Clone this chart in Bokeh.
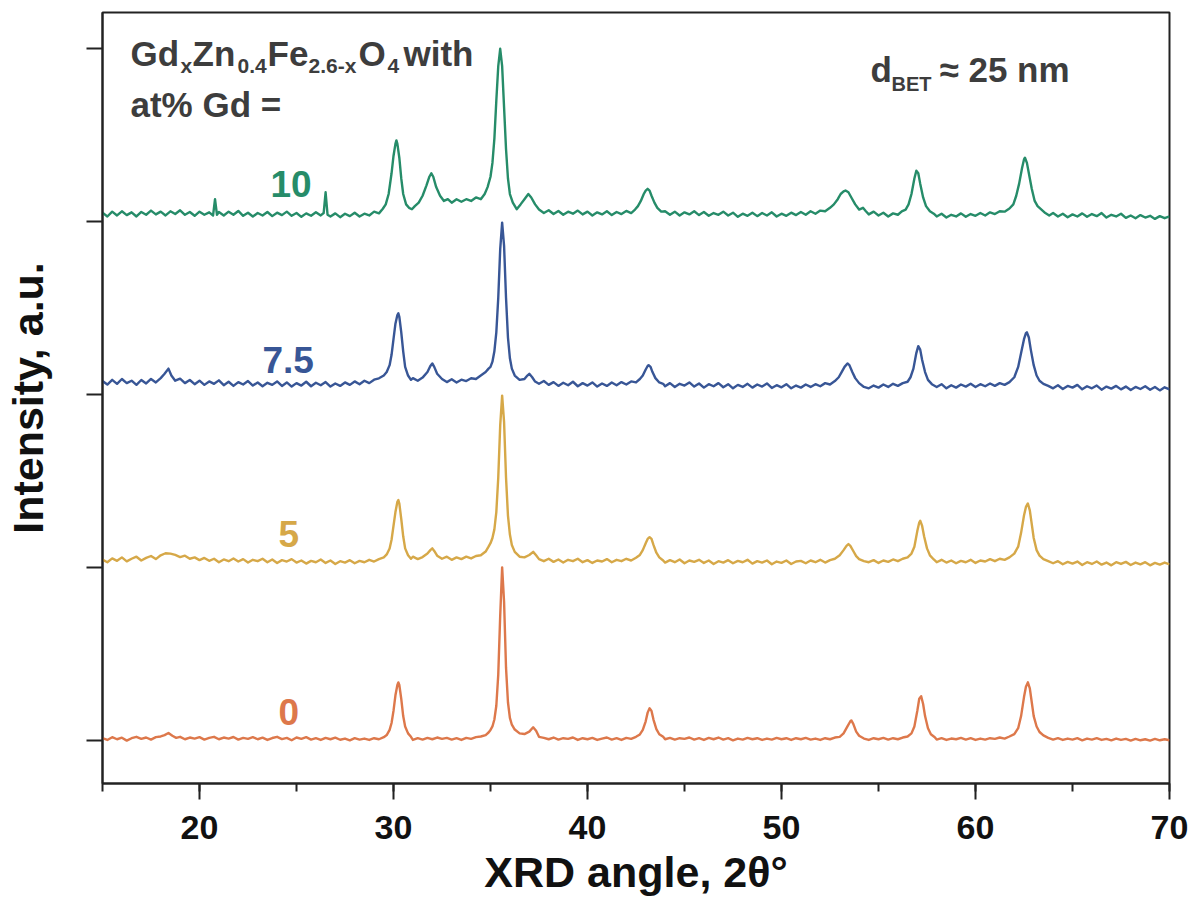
from bokeh.plotting import figure
from bokeh.models import Range1d, Label, FixedTicker, SingleIntervalTicker
from bokeh.embed import file_html
from bokeh.resources import INLINE

# ---------------- data (2-theta, normalised intensity above each trace's own zero) -------------
S0 = [(15.0,.012),(15.25,.002),(15.5,.018),(15.75,.006),(16.0,.015),(16.25,-.002),(16.5,.012),(16.75,.020),(17.0,.008),(17.25,.016),(17.5,.004),(17.75,.018),(18.0,.022),(18.2,.030),(18.4,.042),(18.6,.026),(18.8,.014),(19.0,.020),(19.25,.006),(19.5,.016),(19.75,.010),(20.0,.018),(20.25,.004),(20.5,.014),(20.75,.020),(21.0,.006),(21.25,.016),(21.5,.010),(21.75,.019),(22.0,.004),(22.25,.014),(22.5,.008),(22.75,.018),(23.0,.006),(23.25,.015),(23.5,.002),(23.75,.013),(24.0,.020),(24.25,.007),(24.5,.014),(24.75,.000),(25.0,.016),(25.25,.008),(25.5,.018),(25.75,.004),(26.0,.012),(26.25,.002),(26.5,.014),(26.75,.006),(27.0,.015),(27.25,.003),(27.5,.010),(27.75,.000),(28.0,.012),(28.25,.004),(28.5,.010),(28.75,.002),(29.0,.012),(29.25,.006),(29.5,.018),(29.65,.030),(29.8,.060),(29.9,.10),(30.0,.17),(30.1,.26),(30.2,.32),(30.25,.335),(30.3,.32),(30.4,.24),(30.5,.14),(30.6,.08),(30.75,.040),(30.9,.020),(31.0,.002),(31.25,.012),(31.5,.004),(31.75,.014),(32.0,.006),(32.25,.016),(32.5,.008),(32.75,.014),(33.0,.004),(33.25,.012),(33.5,.002),(33.75,.014),(34.0,.008),(34.25,.018),(34.5,.022),(34.75,.030),(34.9,.045),(35.0,.060),(35.1,.080),(35.2,.12),(35.3,.20),(35.4,.38),(35.5,.72),(35.6,1.0),(35.7,.80),(35.8,.42),(35.9,.22),(36.0,.13),(36.1,.09),(36.25,.062),(36.5,.040),(36.75,.036),(37.0,.050),(37.2,.075),(37.35,.055),(37.5,.020),(37.75,.014),(38.0,.006),(38.25,.016),(38.5,.004),(38.75,.012),(39.0,.008),(39.25,.016),(39.5,.002),(39.75,.012),(40.0,.006),(40.25,.014),(40.5,.002),(40.75,.010),(41.0,.016),(41.25,.004),(41.5,.012),(41.75,.002),(42.0,.014),(42.25,.008),(42.5,.020),(42.7,.034),(42.85,.060),(43.0,.11),(43.1,.16),(43.2,.185),(43.3,.17),(43.4,.12),(43.55,.065),(43.7,.035),(43.9,.020),(44.0,.006),(44.25,.014),(44.5,.004),(44.75,.012),(45.0,.008),(45.25,.016),(45.5,.004),(45.75,.012),(46.0,.002),(46.25,.014),(46.5,.006),(46.75,.016),(47.0,.004),(47.25,.012),(47.5,.000),(47.75,.010),(48.0,.004),(48.25,.014),(48.5,.006),(48.75,.012),(49.0,.002),(49.25,.010),(49.5,.004),(49.75,.014),(50.0,.006),(50.25,.012),(50.5,.002),(50.75,.012),(51.0,.006),(51.25,.014),(51.5,.004),(51.75,.010),(52.0,.002),(52.25,.012),(52.5,.006),(52.75,.016),(53.0,.020),(53.2,.040),(53.4,.080),(53.55,.11),(53.6,.115),(53.7,.095),(53.85,.050),(54.0,.026),(54.25,.010),(54.5,.002),(54.75,.012),(55.0,.006),(55.25,.014),(55.5,.004),(55.75,.012),(56.0,.006),(56.25,.016),(56.5,.022),(56.7,.040),(56.85,.080),(57.0,.17),(57.1,.24),(57.2,.255),(57.3,.21),(57.4,.14),(57.55,.070),(57.7,.035),(57.9,.018),(58.0,.004),(58.25,.012),(58.5,.002),(58.75,.010),(59.0,.006),(59.25,.014),(59.5,.004),(59.75,.012),(60.0,.002),(60.25,.010),(60.5,.004),(60.75,.012),(61.0,.008),(61.25,.016),(61.5,.010),(61.75,.022),(62.0,.036),(62.2,.070),(62.35,.14),(62.5,.25),(62.6,.31),(62.7,.335),(62.8,.30),(62.9,.22),(63.0,.14),(63.15,.080),(63.3,.048),(63.5,.028),(63.75,.014),(64.0,.004),(64.25,.012),(64.5,.002),(64.75,.010),(65.0,.004),(65.25,.012),(65.5,.000),(65.75,.010),(66.0,.004),(66.25,.012),(66.5,.002),(66.75,.008),(67.0,.000),(67.25,.010),(67.5,.002),(67.75,.008),(68.0,-.002),(68.25,.008),(68.5,.000),(68.75,.006),(69.0,-.002),(69.25,.008),(69.5,.000),(69.75,.006),(70.0,.000)]

S5 = [(15.0,.045),(15.25,.030),(15.5,.052),(15.75,.038),(16.0,.058),(16.25,.035),(16.5,.050),(16.75,.062),(17.0,.040),(17.25,.055),(17.5,.066),(17.75,.048),(18.0,.070),(18.25,.082),(18.5,.080),(18.75,.072),(19.0,.060),(19.25,.068),(19.5,.050),(19.75,.058),(20.0,.042),(20.25,.055),(20.5,.038),(20.75,.050),(21.0,.030),(21.25,.046),(21.5,.036),(21.75,.052),(22.0,.034),(22.25,.048),(22.5,.028),(22.75,.044),(23.0,.036),(23.25,.050),(23.5,.030),(23.75,.046),(24.0,.026),(24.25,.042),(24.5,.034),(24.75,.048),(25.0,.028),(25.25,.040),(25.5,.022),(25.75,.038),(26.0,.030),(26.25,.046),(26.5,.026),(26.75,.040),(27.0,.020),(27.25,.036),(27.5,.028),(27.75,.042),(28.0,.024),(28.25,.038),(28.5,.030),(28.75,.044),(29.0,.034),(29.25,.048),(29.5,.058),(29.65,.075),(29.8,.11),(29.9,.16),(30.0,.24),(30.1,.32),(30.2,.38),(30.25,.39),(30.3,.37),(30.4,.28),(30.5,.18),(30.6,.11),(30.75,.070),(30.9,.050),(31.0,.062),(31.25,.048),(31.5,.060),(31.75,.080),(31.9,.10),(32.0,.11),(32.1,.095),(32.25,.068),(32.5,.050),(32.75,.062),(33.0,.044),(33.25,.058),(33.5,.048),(33.75,.062),(34.0,.052),(34.25,.066),(34.5,.070),(34.75,.092),(34.9,.12),(35.0,.14),(35.1,.17),(35.2,.22),(35.3,.32),(35.4,.52),(35.5,.82),(35.6,.994),(35.7,.84),(35.8,.52),(35.9,.30),(36.0,.19),(36.1,.13),(36.25,.090),(36.5,.062),(36.75,.058),(37.0,.072),(37.2,.090),(37.35,.070),(37.5,.048),(37.75,.036),(38.0,.050),(38.25,.032),(38.5,.046),(38.75,.028),(39.0,.044),(39.25,.036),(39.5,.050),(39.75,.030),(40.0,.042),(40.25,.026),(40.5,.040),(40.75,.034),(41.0,.048),(41.25,.030),(41.5,.044),(41.75,.036),(42.0,.050),(42.25,.040),(42.5,.056),(42.7,.072),(42.85,.10),(43.0,.14),(43.1,.165),(43.2,.175),(43.3,.165),(43.4,.13),(43.55,.085),(43.7,.058),(43.9,.040),(44.0,.028),(44.25,.042),(44.5,.030),(44.75,.046),(45.0,.024),(45.25,.040),(45.5,.032),(45.75,.044),(46.0,.026),(46.25,.040),(46.5,.020),(46.75,.036),(47.0,.028),(47.25,.042),(47.5,.024),(47.75,.038),(48.0,.030),(48.25,.044),(48.5,.022),(48.75,.036),(49.0,.028),(49.25,.040),(49.5,.018),(49.75,.034),(50.0,.026),(50.25,.040),(50.5,.020),(50.75,.034),(51.0,.038),(51.25,.024),(51.5,.040),(51.75,.030),(52.0,.044),(52.25,.028),(52.5,.042),(52.75,.050),(53.0,.070),(53.2,.10),(53.35,.125),(53.45,.135),(53.55,.125),(53.7,.095),(53.85,.065),(54.0,.048),(54.25,.036),(54.5,.030),(54.75,.042),(55.0,.026),(55.25,.040),(55.5,.032),(55.75,.046),(56.0,.036),(56.25,.050),(56.5,.058),(56.7,.080),(56.85,.12),(57.0,.21),(57.1,.26),(57.15,.27),(57.25,.24),(57.35,.18),(57.5,.11),(57.65,.070),(57.85,.046),(58.0,.030),(58.25,.044),(58.5,.028),(58.75,.040),(59.0,.024),(59.25,.038),(59.5,.030),(59.75,.044),(60.0,.026),(60.25,.040),(60.5,.034),(60.75,.048),(61.0,.036),(61.25,.050),(61.5,.044),(61.75,.058),(62.0,.080),(62.2,.12),(62.35,.20),(62.5,.30),(62.6,.35),(62.7,.37),(62.8,.33),(62.9,.25),(63.0,.17),(63.15,.10),(63.3,.068),(63.5,.048),(63.75,.036),(64.0,.024),(64.25,.036),(64.5,.018),(64.75,.032),(65.0,.022),(65.25,.034),(65.5,.014),(65.75,.030),(66.0,.020),(66.25,.034),(66.5,.016),(66.75,.028),(67.0,.012),(67.25,.030),(67.5,.020),(67.75,.032),(68.0,.014),(68.25,.028),(68.5,.018),(68.75,.030),(69.0,.012),(69.25,.026),(69.5,.016),(69.75,.028),(70.0,.018)]

S75 = [(15.0,.078),(15.25,.058),(15.5,.085),(15.75,.062),(16.0,.090),(16.25,.066),(16.5,.080),(16.75,.056),(17.0,.084),(17.25,.064),(17.5,.090),(17.75,.070),(18.0,.095),(18.2,.12),(18.4,.15),(18.55,.11),(18.75,.080),(19.0,.092),(19.25,.066),(19.5,.084),(19.75,.060),(20.0,.080),(20.25,.056),(20.5,.076),(20.75,.062),(21.0,.082),(21.25,.054),(21.5,.074),(21.75,.050),(22.0,.072),(22.25,.058),(22.5,.078),(22.75,.052),(23.0,.070),(23.25,.048),(23.5,.068),(23.75,.056),(24.0,.076),(24.25,.050),(24.5,.070),(24.75,.046),(25.0,.066),(25.25,.052),(25.5,.074),(25.75,.048),(26.0,.068),(26.25,.054),(26.5,.072),(26.75,.046),(27.0,.064),(27.25,.050),(27.5,.070),(27.75,.056),(28.0,.076),(28.25,.060),(28.5,.080),(28.75,.066),(29.0,.086),(29.25,.094),(29.5,.11),(29.65,.13),(29.8,.17),(29.9,.23),(30.0,.32),(30.1,.41),(30.2,.46),(30.25,.47),(30.3,.45),(30.4,.36),(30.5,.25),(30.6,.16),(30.75,.11),(30.9,.085),(31.0,.095),(31.25,.080),(31.5,.098),(31.75,.13),(31.9,.165),(32.0,.18),(32.1,.16),(32.25,.12),(32.5,.090),(32.75,.072),(33.0,.088),(33.25,.070),(33.5,.086),(33.75,.078),(34.0,.094),(34.25,.090),(34.5,.11),(34.75,.13),(34.9,.15),(35.0,.16),(35.1,.19),(35.2,.25),(35.3,.36),(35.4,.56),(35.5,.84),(35.6,.994),(35.7,.86),(35.8,.56),(35.9,.33),(36.0,.21),(36.1,.15),(36.25,.11),(36.5,.085),(36.75,.090),(36.9,.11),(37.0,.12),(37.15,.10),(37.3,.075),(37.5,.062),(37.75,.078),(38.0,.056),(38.25,.072),(38.5,.050),(38.75,.068),(39.0,.054),(39.25,.074),(39.5,.048),(39.75,.066),(40.0,.052),(40.25,.070),(40.5,.046),(40.75,.064),(41.0,.050),(41.25,.070),(41.5,.054),(41.75,.072),(42.0,.058),(42.25,.076),(42.5,.070),(42.7,.090),(42.85,.11),(43.0,.145),(43.1,.165),(43.15,.17),(43.25,.16),(43.35,.13),(43.5,.095),(43.7,.070),(43.9,.062),(44.0,.048),(44.25,.066),(44.5,.044),(44.75,.062),(45.0,.052),(45.25,.070),(45.5,.046),(45.75,.064),(46.0,.040),(46.25,.060),(46.5,.048),(46.75,.066),(47.0,.042),(47.25,.060),(47.5,.036),(47.75,.056),(48.0,.044),(48.25,.062),(48.5,.040),(48.75,.058),(49.0,.046),(49.25,.064),(49.5,.038),(49.75,.054),(50.0,.042),(50.25,.060),(50.5,.036),(50.75,.052),(51.0,.040),(51.25,.058),(51.5,.044),(51.75,.060),(52.0,.048),(52.25,.066),(52.5,.058),(52.75,.078),(52.95,.10),(53.1,.13),(53.25,.16),(53.4,.18),(53.5,.17),(53.65,.13),(53.8,.095),(54.0,.066),(54.25,.044),(54.5,.036),(54.75,.052),(55.0,.040),(55.25,.058),(55.5,.044),(55.75,.062),(56.0,.050),(56.25,.066),(56.5,.074),(56.65,.10),(56.8,.15),(56.95,.24),(57.05,.28),(57.15,.26),(57.25,.20),(57.4,.13),(57.55,.085),(57.75,.060),(58.0,.044),(58.25,.060),(58.5,.036),(58.75,.054),(59.0,.040),(59.25,.058),(59.5,.046),(59.75,.062),(60.0,.044),(60.25,.060),(60.5,.048),(60.75,.064),(61.0,.050),(61.25,.066),(61.5,.056),(61.75,.072),(62.0,.10),(62.2,.16),(62.35,.24),(62.5,.32),(62.6,.355),(62.65,.36),(62.75,.33),(62.85,.26),(63.0,.17),(63.15,.11),(63.3,.080),(63.5,.062),(63.75,.050),(64.0,.036),(64.25,.054),(64.5,.032),(64.75,.050),(65.0,.040),(65.25,.056),(65.5,.030),(65.75,.048),(66.0,.036),(66.25,.052),(66.5,.028),(66.75,.046),(67.0,.034),(67.25,.050),(67.5,.030),(67.75,.046),(68.0,.026),(68.25,.044),(68.5,.032),(68.75,.048),(69.0,.028),(69.25,.044),(69.5,.024),(69.75,.042),(70.0,.030)]

S10 = [(15.0,.052),(15.25,.030),(15.5,.058),(15.75,.036),(16.0,.060),(16.25,.038),(16.5,.054),(16.75,.030),(17.0,.056),(17.25,.040),(17.5,.064),(17.75,.042),(18.0,.058),(18.25,.036),(18.5,.060),(18.75,.044),(19.0,.066),(19.25,.040),(19.5,.056),(19.75,.034),(20.0,.058),(20.25,.040),(20.5,.054),(20.7,.036),(20.8,.13),(20.9,.040),(21.0,.056),(21.25,.036),(21.5,.058),(21.75,.040),(22.0,.062),(22.25,.034),(22.5,.052),(22.75,.030),(23.0,.050),(23.25,.036),(23.5,.056),(23.75,.032),(24.0,.052),(24.25,.038),(24.5,.058),(24.75,.034),(25.0,.050),(25.25,.028),(25.5,.048),(25.75,.034),(26.0,.054),(26.25,.036),(26.4,.050),(26.5,.17),(26.6,.040),(26.75,.030),(27.0,.048),(27.25,.026),(27.5,.046),(27.75,.032),(28.0,.052),(28.25,.030),(28.5,.046),(28.75,.036),(29.0,.058),(29.25,.048),(29.45,.075),(29.6,.10),(29.75,.16),(29.9,.28),(30.0,.38),(30.1,.45),(30.15,.47),(30.2,.45),(30.3,.37),(30.4,.25),(30.5,.16),(30.65,.10),(30.8,.080),(30.95,.072),(31.1,.090),(31.3,.11),(31.5,.15),(31.7,.21),(31.85,.26),(31.95,.28),(32.05,.26),(32.2,.20),(32.4,.15),(32.6,.12),(32.8,.13),(33.0,.11),(33.25,.13),(33.5,.115),(33.75,.13),(34.0,.12),(34.25,.14),(34.5,.13),(34.7,.16),(34.85,.20),(35.0,.26),(35.1,.34),(35.2,.48),(35.3,.70),(35.4,.90),(35.5,1.0),(35.6,.90),(35.7,.66),(35.8,.42),(35.9,.25),(36.0,.16),(36.15,.11),(36.35,.072),(36.55,.10),(36.75,.13),(36.95,.16),(37.1,.14),(37.3,.10),(37.5,.070),(37.75,.050),(38.0,.066),(38.25,.044),(38.5,.062),(38.75,.040),(39.0,.058),(39.25,.046),(39.5,.064),(39.75,.042),(40.0,.058),(40.25,.036),(40.5,.054),(40.75,.042),(41.0,.060),(41.25,.038),(41.5,.056),(41.75,.044),(42.0,.062),(42.25,.050),(42.45,.070),(42.6,.090),(42.75,.12),(42.9,.16),(43.0,.18),(43.1,.19),(43.2,.18),(43.3,.15),(43.45,.11),(43.6,.080),(43.8,.058),(44.0,.060),(44.25,.040),(44.5,.058),(44.75,.036),(45.0,.054),(45.25,.042),(45.5,.060),(45.75,.038),(46.0,.056),(46.25,.034),(46.5,.050),(46.75,.040),(47.0,.058),(47.25,.036),(47.5,.052),(47.75,.028),(48.0,.046),(48.25,.034),(48.5,.052),(48.75,.032),(49.0,.050),(49.25,.036),(49.5,.054),(49.75,.030),(50.0,.046),(50.25,.034),(50.5,.052),(50.75,.038),(51.0,.056),(51.25,.040),(51.5,.060),(51.75,.046),(52.0,.064),(52.25,.060),(52.5,.080),(52.7,.10),(52.9,.13),(53.05,.16),(53.2,.175),(53.3,.18),(53.45,.17),(53.6,.14),(53.8,.10),(54.0,.070),(54.2,.080),(54.35,.060),(54.5,.042),(54.75,.058),(55.0,.036),(55.25,.052),(55.5,.030),(55.75,.048),(56.0,.040),(56.2,.060),(56.4,.070),(56.55,.10),(56.7,.16),(56.85,.25),(56.95,.295),(57.05,.28),(57.15,.22),(57.3,.14),(57.45,.090),(57.65,.060),(57.85,.046),(58.0,.030),(58.25,.046),(58.5,.024),(58.75,.040),(59.0,.030),(59.25,.048),(59.5,.028),(59.75,.044),(60.0,.034),(60.25,.050),(60.5,.036),(60.75,.054),(61.0,.044),(61.25,.060),(61.5,.058),(61.75,.076),(61.95,.10),(62.1,.15),(62.25,.22),(62.4,.31),(62.5,.36),(62.55,.37),(62.65,.34),(62.75,.28),(62.9,.19),(63.05,.12),(63.2,.090),(63.4,.070),(63.6,.050),(63.8,.036),(64.0,.050),(64.25,.030),(64.5,.046),(64.75,.026),(65.0,.042),(65.25,.030),(65.5,.048),(65.75,.028),(66.0,.044),(66.25,.032),(66.5,.050),(66.75,.024),(67.0,.040),(67.25,.030),(67.5,.046),(67.75,.022),(68.0,.036),(68.25,.020),(68.5,.038),(68.75,.024),(69.0,.034),(69.25,.016),(69.5,.032),(69.75,.020),(70.0,.030)]

series = [S0, S5, S75, S10]
gd_labels = ["0", "5", "7.5", "10"]
offsets = [0, 1, 2, 3]
colors = ["#DD784B", "#D6A848", "#385696", "#268C69"]
x_ticks_major = 10
y_ticks = [0, 1, 2, 3, 4]

FONT = "Liberation Sans"
TEXT_GREY = "#3D3D3D"

# frame geometry helpers (pixel -> data) used only for placing annotation text
XMIN, XMAX, YMIN, YMAX = 15, 70, -0.25, 4.21
FL, FR, FT, FB = 102, 1169, 12, 783
def dx(px):
    return XMIN + (px - FL) * (XMAX - XMIN) / (FR - FL)
def dy(py):
    return YMAX - (py - FT) * (YMAX - YMIN) / (FB - FT)

p = figure(width=1192, height=902, output_backend="svg", toolbar_location=None,
           x_range=Range1d(XMIN, XMAX), y_range=Range1d(YMIN, YMAX),
           min_border_left=FL, min_border_right=1192 - FR, min_border_top=FT,
           min_border_bottom=902 - FB)
p.grid.visible = False
p.outline_line_color = "#222222"
p.outline_line_width = 2
p.background_fill_color = "white"
p.border_fill_color = "white"

for s, off, col in zip(series, offsets, colors):
    xs = [a for a, b in s]
    ys = [b + off for a, b in s]
    p.line(xs, ys, line_color=col, line_width=2.4, line_join="round")

# x axis
xa = p.xaxis[0]
xa.ticker = SingleIntervalTicker(interval=x_ticks_major, num_minor_ticks=2)
xa.axis_line_width = 2
xa.axis_line_color = "#222222"
xa.major_tick_line_width = 2
xa.minor_tick_line_width = 2
xa.major_tick_line_color = "#222222"
xa.minor_tick_line_color = "#222222"
xa.major_tick_out = 16
xa.major_tick_in = 0
xa.minor_tick_out = 8
xa.minor_tick_in = 0
xa.major_label_text_font = FONT
xa.major_label_text_font_style = "bold"
xa.major_label_text_font_size = "34px"
xa.major_label_text_color = "#111111"
xa.major_label_standoff = 16
xa.axis_label = "XRD angle, 2θ°"
xa.axis_label_text_font = FONT
xa.axis_label_text_font_style = "bold"
xa.axis_label_text_font_size = "43px"
xa.axis_label_text_color = "#111111"
xa.axis_label_standoff = 6

# y axis
ya = p.yaxis[0]
ya.ticker = FixedTicker(ticks=y_ticks, minor_ticks=[])
ya.major_label_overrides = {t: "" for t in y_ticks}
ya.axis_line_width = 2
ya.axis_line_color = "#222222"
ya.major_tick_line_width = 2
ya.major_tick_line_color = "#222222"
ya.major_tick_out = 16
ya.major_tick_in = 0
ya.minor_tick_out = 0
ya.minor_tick_in = 0
ya.major_label_standoff = 0
ya.axis_label = "Intensity, a.u."
ya.axis_label_text_font = FONT
ya.axis_label_text_font_style = "bold"
ya.axis_label_text_font_size = "43px"
ya.axis_label_text_color = "#111111"
ya.axis_label_standoff = 35

SHIFT = 12  # renderer places 'alphabetic' baseline slightly lower; compensate

def add_text(txt, px, py, size, color=TEXT_GREY):
    p.add_layout(Label(x=dx(px), y=dy(py - SHIFT), text=txt, text_font=FONT,
                       text_font_style="bold", text_font_size=f"{size}px",
                       text_color=color, text_align="left",
                       text_baseline="alphabetic"))

# formula, line 1 (main baseline 65, subscripts baseline 77)
MAIN, SUB = 35, 21
add_text("Gd", 130, 65, MAIN)
add_text("x", 180, 77, SUB)
add_text("Zn", 192, 65, MAIN)
add_text("0.4", 237, 77, SUB)
add_text("Fe", 267, 65, MAIN)
add_text("2.6-x", 308, 77, SUB)
add_text("O", 358, 65, MAIN)
add_text("4", 387, 77, SUB)
add_text("with", 403, 65, MAIN)
add_text("at% Gd =", 130, 116, MAIN)

# d_BET
add_text("d", 870, 81, MAIN)
add_text("BET", 891, 95, 20)
add_text("≈ 25 nm", 939, 81, MAIN)

# trace labels
label_pos = [(278, 723), (278, 545), (262, 371), (270, 195)]
for lab, col, (lx, ly) in zip(gd_labels, colors, label_pos):
    add_text(lab, lx, ly, 37, col)

open("out.html", "w").write(file_html(p, INLINE))
